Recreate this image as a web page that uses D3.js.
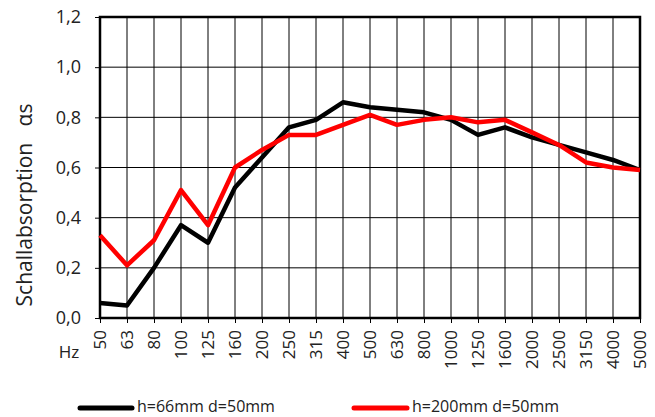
<!DOCTYPE html>
<html><head><meta charset="utf-8">
<script src="https://cdn.jsdelivr.net/npm/d3@7"></script>
<style>body{margin:0;background:#fff}svg{display:block}text{font-family:"Open Sans","DejaVu Sans",sans-serif;fill:#222}</style>
</head><body><svg id="c" width="655" height="417"></svg>
<script>
const categories = ["50","63","80","100","125","160","200","250","315","400","500","630","800","1000","1250","1600","2000","2500","3150","4000","5000"];
const seriesBlack = [0.06,0.05,0.20,0.37,0.30,0.52,0.64,0.76,0.79,0.86,0.84,0.83,0.82,0.79,0.73,0.76,0.72,0.69,0.66,0.63,0.59];
const seriesRed = [0.33,0.21,0.31,0.51,0.37,0.60,0.67,0.73,0.73,0.77,0.81,0.77,0.79,0.80,0.78,0.79,0.74,0.69,0.62,0.60,0.59];
const seriesNames = ["h=66mm d=50mm","h=200mm d=50mm"];
const yTicks = [0,0.2,0.4,0.6,0.8,1.0,1.2];

const svg = d3.select("#c");
const L=100,R=640,T=17,B=318;
const x = d3.scalePoint().domain(categories).range([L,R]);
const y = d3.scaleLinear().domain([0,1.2]).range([B,T]);

// grid
svg.append("g").selectAll("line").data(categories).join("line")
 .attr("x1",d=>x(d)).attr("x2",d=>x(d)).attr("y1",T).attr("y2",B)
 .attr("stroke","#000").attr("stroke-width",1);
svg.append("g").selectAll("line").data(yTicks).join("line")
 .attr("x1",L).attr("x2",R).attr("y1",d=>y(d)).attr("y2",d=>y(d))
 .attr("stroke","#000").attr("stroke-width",1);

// axes
const fmt = d=>d3.format(".1f")(d).replace(".",",");
const ya = svg.append("g").attr("transform",`translate(${L},0)`)
 .call(d3.axisLeft(y).tickValues(yTicks).tickFormat(fmt).tickSize(5).tickPadding(14));
ya.select(".domain").remove();
ya.selectAll("line").attr("stroke","#000");
ya.selectAll("text").attr("font-size",18).style("fill","#222");

const xa = svg.append("g").attr("transform",`translate(0,${B})`)
 .call(d3.axisBottom(x).tickSize(5).tickPadding(0));
xa.select(".domain").remove();
xa.selectAll("line").attr("stroke","#000");
xa.selectAll("text").attr("font-size",17).style("fill","#222")
 .attr("text-anchor","end").attr("dy","0.35em")
 .attr("transform","translate(0,12) rotate(-90)").attr("x",0).attr("y",0);

// frame
svg.append("rect").attr("x",L).attr("y",T).attr("width",R-L).attr("height",B-T)
 .attr("fill","none").attr("stroke","#000").attr("stroke-width",2.5);

// lines
const line = d3.line().x((d,i)=>x(categories[i])).y(d=>y(d));
svg.append("path").datum(seriesBlack).attr("d",line).attr("fill","none")
 .attr("stroke","#000").attr("stroke-width",4.5).attr("stroke-linejoin","round");
svg.append("path").datum(seriesRed).attr("d",line).attr("fill","none")
 .attr("stroke","#ff0000").attr("stroke-width",4.5).attr("stroke-linejoin","round");

// labels
svg.append("text").attr("x",69).attr("y",358).attr("font-size",17).attr("text-anchor","middle").text("Hz");
svg.append("text").attr("transform","translate(32,205) rotate(-90)").attr("text-anchor","middle")
 .attr("font-size",21).attr("xml:space","preserve").text("Schallabsorption   αs");

// legend
const leg = [{c:"#000",x1:80,x2:132,tx:137},{c:"#ff0000",x1:354,x2:407,tx:412}];
leg.forEach((l,i)=>{
 svg.append("line").attr("x1",l.x1).attr("x2",l.x2).attr("y1",408).attr("y2",408)
  .attr("stroke",l.c).attr("stroke-width",5).attr("stroke-linecap","round");
 svg.append("text").attr("x",l.tx).attr("y",412).attr("font-size",16).text(seriesNames[i]);
});
</script></body></html>
